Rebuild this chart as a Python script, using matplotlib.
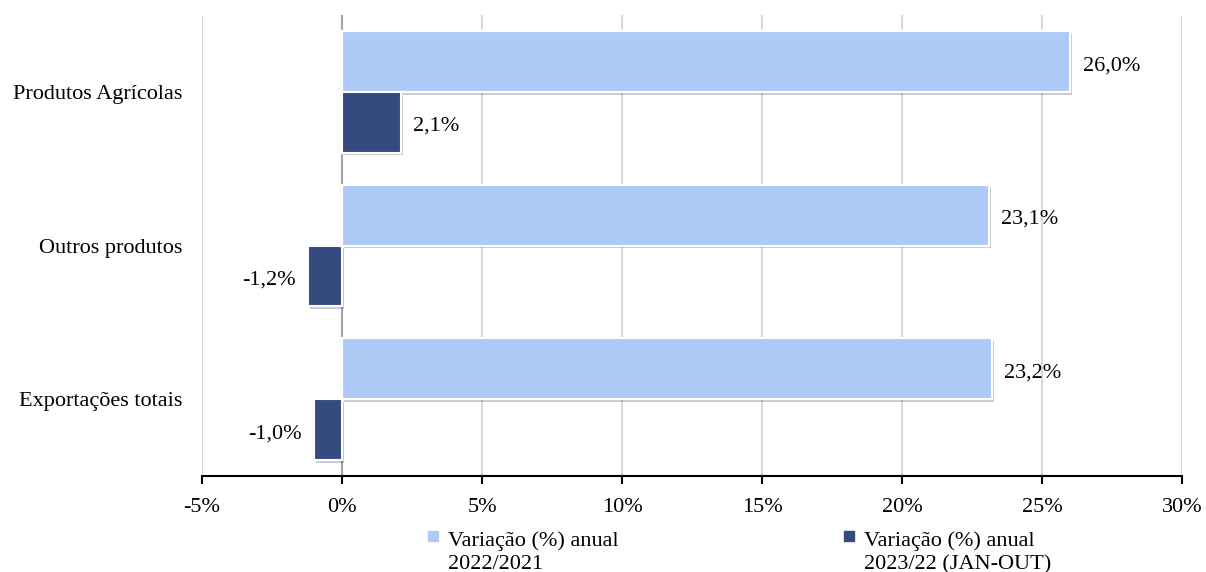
import numpy as np
import matplotlib.pyplot as plt
import matplotlib.patheffects as pe
from matplotlib.lines import Line2D
from matplotlib.legend_handler import HandlerLine2D

categories = ['Produtos Agrícolas', 'Outros produtos', 'Exportações totais']
var_2022 = [26.0, 23.1, 23.2]
var_2023 = [2.1, -1.2, -1.0]
series_names = ['Variação (%) anual\n2022/2021', 'Variação (%) anual\n2023/22 (JAN-OUT)']
xticks = [-5, 0, 5, 10, 15, 20, 25, 30]

light = '#AECBF7'
dark = '#354B7F'

plt.rcParams['font.family'] = ['Liberation Serif', 'DejaVu Serif']
plt.rcParams['font.size'] = 16

fig = plt.figure(figsize=(12.06, 5.72), dpi=100)
ax = fig.add_axes([0.1675, 0.1678, 0.8126, 0.806])

y = np.arange(len(categories))[::-1]
h = 0.396
shadow = [pe.SimplePatchShadow(offset=(1.5, -2), shadow_rgbFace='black', alpha=0.2), pe.Normal()]

b1 = ax.barh(y + h / 2, var_2022, height=h, color=light, edgecolor='white', linewidth=1.5, zorder=3)
b2 = ax.barh(y - h / 2, var_2023, height=h, color=dark, edgecolor='white', linewidth=1.5, zorder=3)
for bar in list(b1) + list(b2):
    bar.set_path_effects(shadow)

def fmt(v):
    return f'{v:.1f}%'.replace('.', ',')

for bars, vals in ((b1, var_2022), (b2, var_2023)):
    for bar, v in zip(bars, vals):
        yc = bar.get_y() + bar.get_height() / 2
        off = 9 if v >= 0 else -9
        ax.annotate(fmt(v), (v, yc), xytext=(off, -3), textcoords='offset points',
                    ha='left' if v >= 0 else 'right', va='center')

ax.set_xlim(-5, 30)
ax.set_ylim(-0.5, len(categories) - 0.5)
ax.set_xticks(xticks)
ax.set_xticklabels([f'{t}%' for t in xticks])
ax.set_yticks(y)
ax.set_yticklabels(categories)
ax.tick_params(axis='y', length=0, pad=14)
ax.tick_params(axis='x', length=6, width=1.5, direction='out', pad=10, color='black')

ax.grid(axis='x', color='#D9D9D9', linewidth=1.5, zorder=0)
ax.axvline(0, color='#A6A6A6', linewidth=1.5, zorder=2)
for s in ['top', 'left', 'right']:
    ax.spines[s].set_visible(False)
ax.spines['bottom'].set_linewidth(1.5)
ax.spines['bottom'].set_zorder(4)


# legend marker sits next to the first text line instead of the middle
class TopMarker(HandlerLine2D):
    def create_artists(self, legend, orig_handle, xdescent, ydescent, width, height, fontsize, trans):
        arts = super().create_artists(legend, orig_handle, xdescent, ydescent, width, height, fontsize, trans)
        for a in arts:
            a.set_ydata(np.asarray(a.get_ydata()) + 0.7 * fontsize)
        return arts


handles = [Line2D([], [], marker='s', linestyle='', color=c, markersize=7) for c in (light, dark)]
leg = fig.legend(handles, series_names, loc='upper left', bbox_to_anchor=(0.3445, 0.087), ncol=2,
                 frameon=False, columnspacing=10.0, handletextpad=0.25, handlelength=0.8,
                 labelspacing=0.2, borderaxespad=0, handler_map={Line2D: TopMarker()})
for t in leg.get_texts():
    t.set_linespacing(1.3)

fig.savefig('out.png', dpi=100)
